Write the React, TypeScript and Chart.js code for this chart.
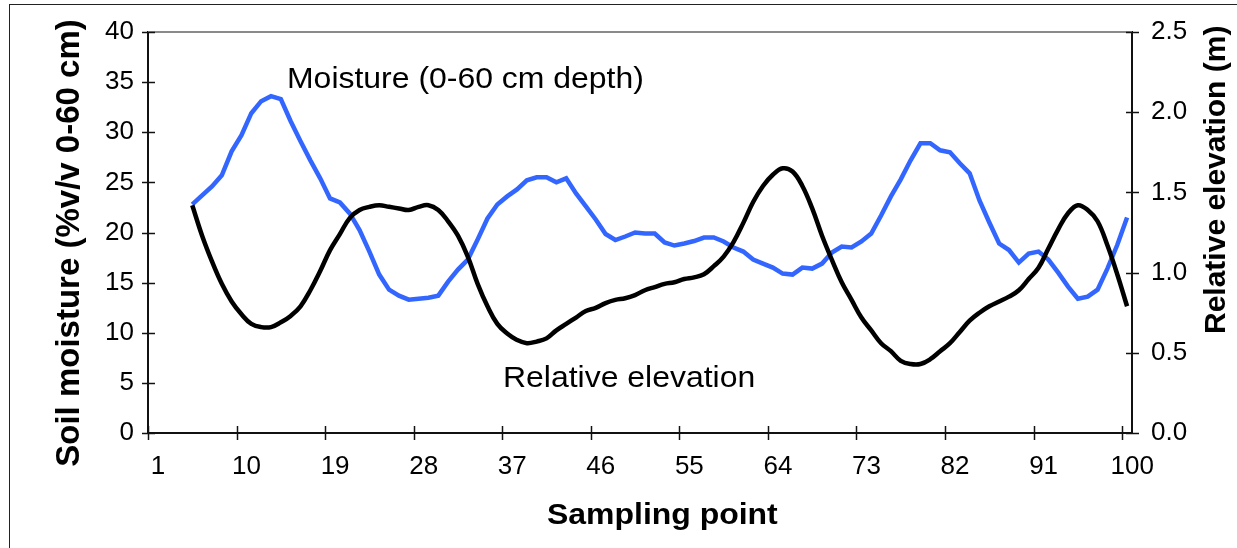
import React, { useEffect, useRef } from 'react';
import { Chart, registerables } from 'chart.js';

Chart.register(...registerables);

// Sampling points start at 5 and run to 100
const sampleStart = 5;

// Soil moisture (% v/v, 0-60 cm), sampling points 5..100
const moisture = [
  22.8, 23.7, 24.6, 25.7, 28.1, 29.7, 31.9, 33.1, 33.6, 33.3,
  31.1, 29.1, 27.2, 25.4, 23.4, 23.0, 21.9, 20.25, 18.1, 15.8,
  14.3, 13.7, 13.3, 13.4, 13.5, 13.7, 15.1, 16.3, 17.3, 19.3,
  21.4, 22.8, 23.6, 24.3, 25.2, 25.5, 25.5, 25.0, 25.4, 23.9,
  22.6, 21.3, 19.85, 19.25, 19.6, 20.0, 19.9, 19.9, 19.0, 18.7,
  18.9, 19.15, 19.5, 19.5, 19.1, 18.5, 18.1, 17.3, 16.9, 16.5,
  15.9, 15.8, 16.5, 16.4, 16.9, 18.0, 18.6, 18.5, 19.1, 19.9,
  21.7, 23.6, 25.3, 27.2, 28.9, 28.9, 28.2, 28.0, 26.9, 25.9,
  23.2, 21.0, 18.9, 18.25, 17.0, 17.9, 18.1, 17.3, 16.0, 14.6,
  13.4, 13.6, 14.3, 16.4, 18.75, 21.5,
];

// Relative elevation (m), sampling points 5..100
const elevation = [
  1.42, 1.23, 1.07, 0.93, 0.82, 0.74, 0.68, 0.66, 0.66, 0.69,
  0.73, 0.79, 0.89, 1.01, 1.14, 1.24, 1.34, 1.39, 1.41, 1.42,
  1.41, 1.40, 1.39, 1.41, 1.42, 1.39, 1.32, 1.23, 1.10, 0.93,
  0.79, 0.68, 0.62, 0.58, 0.56, 0.57, 0.59, 0.64, 0.68, 0.72,
  0.76, 0.78, 0.81, 0.83, 0.84, 0.86, 0.89, 0.91, 0.93, 0.94,
  0.96, 0.97, 0.99, 1.04, 1.10, 1.19, 1.31, 1.44, 1.54, 1.61,
  1.65, 1.63, 1.54, 1.40, 1.23, 1.08, 0.94, 0.83, 0.72, 0.64,
  0.56, 0.51, 0.45, 0.43, 0.43, 0.46, 0.51, 0.56, 0.63, 0.70,
  0.75, 0.79, 0.82, 0.85, 0.89, 0.96, 1.03, 1.15, 1.27, 1.37,
  1.42, 1.39, 1.32, 1.17, 0.99, 0.79,
];

const xTickLabels = [1, 10, 19, 28, 37, 46, 55, 64, 73, 82, 91, 100];

const FONT = '"Liberation Sans", Arial, sans-serif';

const W = 1237;
const H = 548;
const STRETCH = 1.065;

function stretchedText(ctx: any, text: string, x: number, y: number) {
  ctx.save();
  ctx.translate(x, y);
  ctx.scale(STRETCH, 1);
  ctx.fillText(text, 0, 0);
  ctx.restore();
}

const decorPlugin = {
  id: 'decor',
  afterDraw(chart: any) {
    const { ctx, chartArea } = chart;
    const { left, right, top, bottom } = chartArea;
    ctx.save();
    // top grey border of plot area
    ctx.strokeStyle = '#8a8a8a';
    ctx.lineWidth = 2;
    ctx.beginPath();
    ctx.moveTo(left, top);
    ctx.lineTo(right, top);
    ctx.stroke();

    // cross tick marks
    ctx.strokeStyle = '#111';
    ctx.lineWidth = 1.5;
    const xs = chart.scales.x;
    xs.ticks.forEach((t: any) => {
      const px = Math.round(xs.getPixelForValue(t.value)) + 0.5;
      ctx.beginPath();
      ctx.moveTo(px, bottom - 7);
      ctx.lineTo(px, bottom + 7);
      ctx.stroke();
    });
    const ys = chart.scales.y;
    ys.ticks.forEach((t: any) => {
      const py = Math.round(ys.getPixelForValue(t.value)) + 0.5;
      ctx.beginPath();
      ctx.moveTo(left - 6, py);
      ctx.lineTo(left + 7, py);
      ctx.stroke();
    });
    const y1 = chart.scales.y1;
    y1.ticks.forEach((t: any) => {
      const py = Math.round(y1.getPixelForValue(t.value)) + 0.5;
      ctx.beginPath();
      ctx.moveTo(right - 6, py);
      ctx.lineTo(right + 7, py);
      ctx.stroke();
    });

    // texts
    ctx.fillStyle = '#000';
    ctx.textBaseline = 'alphabetic';

    ctx.font = `30px ${FONT}`;
    ctx.textAlign = 'left';
    stretchedText(ctx, 'Moisture (0-60 cm depth)', 287, 88);
    stretchedText(ctx, 'Relative elevation', 503, 387);

    ctx.font = `bold 30px ${FONT}`;
    stretchedText(ctx, 'Sampling point', 547, 524);

    ctx.save();
    ctx.font = `bold 33px ${FONT}`;
    ctx.translate(79, 243);
    ctx.rotate(-Math.PI / 2);
    ctx.textAlign = 'center';
    ctx.fillText('Soil moisture (%v/v 0-60 cm)', 0, 0);
    ctx.restore();

    ctx.save();
    ctx.font = `bold 30px ${FONT}`;
    ctx.translate(1225, 334);
    ctx.rotate(-Math.PI / 2);
    ctx.textAlign = 'left';
    ctx.fillText('Relative elevation (m)', 0, 0);
    ctx.restore();

    ctx.restore();
  },
};

export default function App() {
  const ref = useRef<HTMLCanvasElement | null>(null);

  useEffect(() => {
    if (!ref.current) return;
    const moistureData = moisture.map((v, i) => ({ x: sampleStart + i, y: v }));
    const elevationData = elevation.map((v, i) => ({ x: sampleStart + i, y: v }));

    const chart = new Chart(ref.current, {
      type: 'line',
      data: {
        datasets: [
          {
            label: 'Relative elevation',
            data: elevationData,
            yAxisID: 'y1',
            borderColor: '#000000',
            borderWidth: 4.5,
            pointRadius: 0,
            tension: 0.4,
            fill: false,
          },
          {
            label: 'Moisture (0-60 cm depth)',
            data: moistureData,
            yAxisID: 'y',
            borderColor: '#3366ff',
            borderWidth: 4.5,
            pointRadius: 0,
            tension: 0,
            fill: false,
          },
        ],
      },
      options: {
        responsive: false,
        animation: false,
        devicePixelRatio: 1,
        layout: { padding: { top: 32, left: 0, right: 0, bottom: 0 } },
        plugins: {
          legend: { display: false },
          tooltip: { enabled: false },
        },
        scales: {
          x: {
            type: 'linear',
            min: 0.5,
            max: 100.5,
            afterBuildTicks: (scale: any) => {
              scale.ticks = xTickLabels.map((v) => ({ value: v - 0.5 }));
            },
            afterFit: (scale: any) => {
              scale.height = H - 433;
            },
            grid: { display: false, drawTicks: true, tickLength: 6 },
            border: { display: true, color: '#111', width: 2 },
            ticks: {
              autoSkip: false,
              maxRotation: 0,
              padding: 12,
              labelOffset: 10,
              color: '#000',
              font: { family: FONT, size: 26 },
              callback: (v: any) => String(Math.round(Number(v) + 0.5)),
            },
          },
          y: {
            type: 'linear',
            position: 'left',
            min: 0,
            max: 40,
            afterFit: (scale: any) => {
              scale.width = 148;
            },
            grid: { display: false, drawTicks: true, tickLength: 6 },
            border: { display: true, color: '#111', width: 2 },
            ticks: {
              stepSize: 5,
              padding: 8,
              color: '#000',
              font: { family: FONT, size: 26 },
            },
          },
          y1: {
            type: 'linear',
            position: 'right',
            min: 0,
            max: 2.5,
            afterFit: (scale: any) => {
              scale.width = W - 1132;
            },
            grid: { display: false, drawTicks: true, tickLength: 6 },
            border: { display: true, color: '#111', width: 2 },
            ticks: {
              stepSize: 0.5,
              padding: 13,
              color: '#000',
              font: { family: FONT, size: 26 },
              callback: (v: any) => Number(v).toFixed(1),
            },
          },
        },
      },
      plugins: [decorPlugin],
    });
    return () => chart.destroy();
  }, []);

  return (
    <div style={{ position: 'absolute', left: 0, top: 0, width: W, height: H, background: '#fff' }}>
      <canvas ref={ref} width={W} height={H} style={{ position: 'absolute', left: 0, top: 0, width: W, height: H }} />
      <div
        style={{
          position: 'absolute',
          left: 9,
          top: 4,
          width: W - 9,
          height: H - 4,
          borderLeft: '1px solid #222',
          borderTop: '1px solid #222',
          boxSizing: 'border-box',
          pointerEvents: 'none',
        }}
      />
    </div>
  );
}
